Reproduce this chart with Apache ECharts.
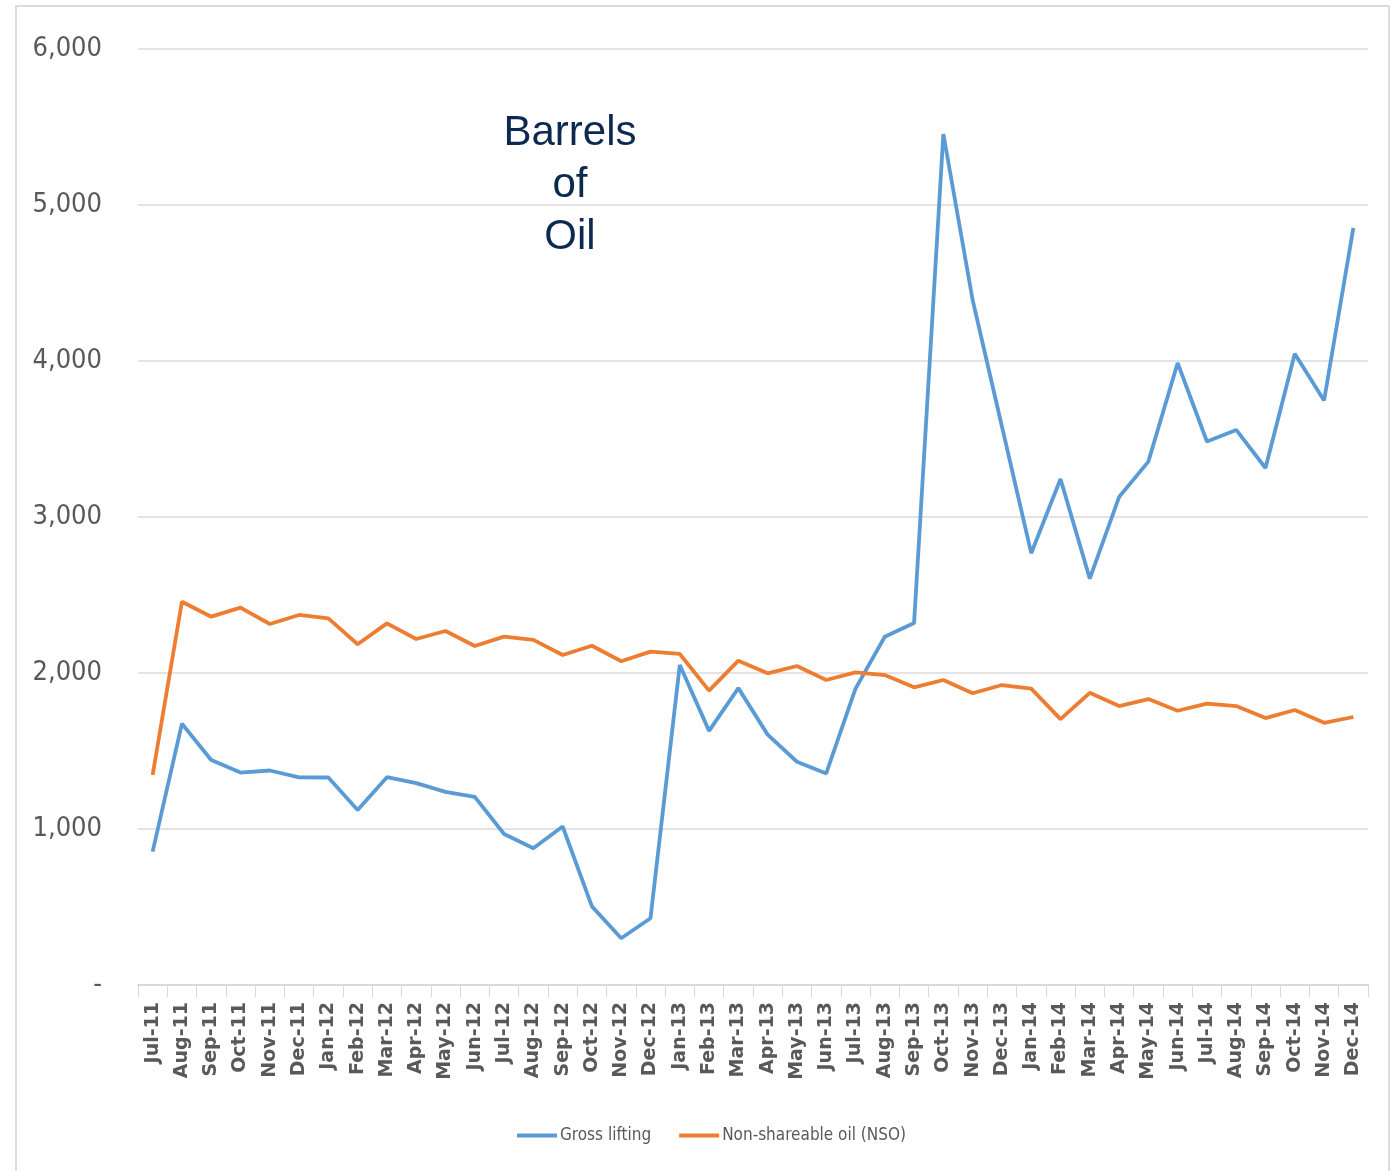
<!DOCTYPE html>
<html>
<head>
<meta charset="utf-8">
<title>Barrels of Oil</title>
<script src="https://cdn.jsdelivr.net/npm/echarts@6/dist/echarts.min.js"></script>
<style>
  html, body { margin: 0; padding: 0; background: #fff; }
  #frame {
    position: absolute; left: 15px; top: 5px; width: 1375px; height: 1200px;
    border: 2px solid #dcdcdc; box-sizing: border-box;
  }
  #chart { position: absolute; left: 0; top: 0; width: 1394px; height: 1171px; }
</style>
</head>
<body>
<div id="frame"></div>
<div id="chart"></div>
<script>
const months = [
  "Jul-11", "Aug-11", "Sep-11", "Oct-11", "Nov-11", "Dec-11",
  "Jan-12", "Feb-12", "Mar-12", "Apr-12", "May-12", "Jun-12",
  "Jul-12", "Aug-12", "Sep-12", "Oct-12", "Nov-12", "Dec-12",
  "Jan-13", "Feb-13", "Mar-13", "Apr-13", "May-13", "Jun-13",
  "Jul-13", "Aug-13", "Sep-13", "Oct-13", "Nov-13", "Dec-13",
  "Jan-14", "Feb-14", "Mar-14", "Apr-14", "May-14", "Jun-14",
  "Jul-14", "Aug-14", "Sep-14", "Oct-14", "Nov-14", "Dec-14"
];

// Gross lifting (barrels)
const grossLifting = [
  855, 1675, 1442, 1362, 1375, 1331,
  1330, 1122, 1332, 1294, 1238, 1206, 968, 877, 1016, 504, 300, 428,
  2051, 1629, 1903, 1605, 1431, 1356, 1900, 2232, 2320, 5455, 4391, 3580,
  2768, 3244, 2605, 3128, 3355, 3987, 3484, 3558, 3314, 4047, 3747, 4853
];

// Non-shareable oil (NSO)
const nso = [
  1346, 2457, 2361, 2419, 2314, 2372,
  2350, 2184, 2318, 2218, 2269, 2173, 2233, 2212, 2115, 2175, 2075, 2137,
  2122, 1887, 2079, 1998, 2045, 1955, 2004, 1987, 1908, 1955, 1870, 1923,
  1900, 1704, 1873, 1788, 1833, 1758, 1804, 1788, 1711, 1763, 1681, 1718
];

const seriesNames = ["Gross lifting", "Non-shareable oil (NSO)"];

const narrowFont = "'DejaVu Sans Condensed', 'Liberation Sans Narrow', sans-serif";

var myChart = echarts.init(document.getElementById("chart"));

var option = {
  animation: false,
  color: ["#5b9bd5", "#ed7d31"],
  grid: {
    left: 138,
    right: 26,
    top: 49,
    bottom: 186,
    containLabel: false
  },
  graphic: [
    {
      type: "text",
      x: 570,
      y: 107,
      style: {
        text: "Barrels\nof\nOil",
        fill: "#0c2a4f",
        font: "42px 'Liberation Sans', Arial, sans-serif",
        lineHeight: 52,
        textAlign: "center",
        textVerticalAlign: "top"
      }
    }
  ],
  legend: {
    data: seriesNames,
    bottom: 22,
    left: 512,
    icon: "rect",
    itemWidth: 40,
    itemHeight: 4,
    itemGap: 28,
    textStyle: {
      color: "#595959",
      fontFamily: narrowFont,
      fontSize: 17,
      padding: [0, 0, 0, -2]
    }
  },
  xAxis: {
    type: "category",
    data: months,
    boundaryGap: true,
    axisLine: { lineStyle: { color: "#d9d9d9", width: 2 } },
    axisTick: { show: true, length: 12, interval: 0, lineStyle: { color: "#d9d9d9", width: 1 } },
    axisLabel: {
      interval: 0,
      rotate: 90,
      margin: 17,
      color: "#595959",
      fontFamily: "'DejaVu Sans', Verdana, sans-serif",
      fontWeight: "bold",
      fontSize: 19
    },
    splitLine: { show: false }
  },
  yAxis: {
    type: "value",
    min: 0,
    max: 6000,
    interval: 1000,
    axisLine: { show: false },
    axisTick: { show: false },
    axisLabel: {
      margin: 36,
      color: "#595959",
      fontFamily: narrowFont,
      fontSize: 27,
      formatter: function(v) {
        return v === 0 ? "-" : v.toLocaleString("en-US");
      }
    },
    splitLine: { lineStyle: { color: "#e3e3e3", width: 2 } }
  },
  series: [
    {
      name: seriesNames[0],
      type: "line",
      data: grossLifting,
      showSymbol: false,
      lineStyle: { width: 3.8, color: "#5b9bd5" },
      itemStyle: { color: "#5b9bd5" }
    },
    {
      name: seriesNames[1],
      type: "line",
      data: nso,
      showSymbol: false,
      lineStyle: { width: 3.8, color: "#ed7d31" },
      itemStyle: { color: "#ed7d31" }
    }
  ]
};

myChart.setOption(option);
</script>
</body>
</html>
